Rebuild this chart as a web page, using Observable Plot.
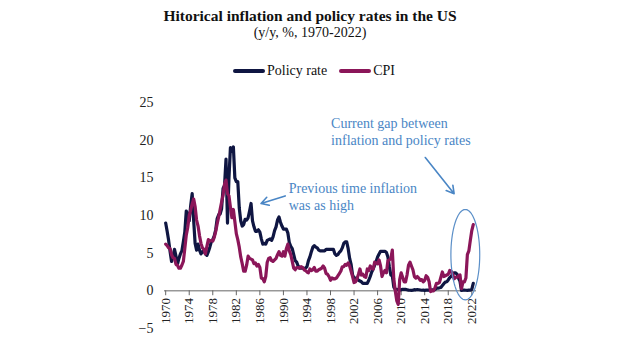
<!DOCTYPE html>
<html>
<head>
<meta charset="utf-8">
<script src="https://cdn.jsdelivr.net/npm/d3@7"></script>
<script src="https://cdn.jsdelivr.net/npm/@observablehq/plot@0.6"></script>
<style>
  html, body { margin: 0; padding: 0; background: #fff; }
  body { width: 620px; height: 355px; overflow: hidden; font-family: "Liberation Serif", serif; color: #111; }
  .title { text-align: center; font-weight: bold; font-size: 15.5px; line-height: 18px; padding-top: 7px; height: 18px; }
  .subtitle { text-align: center; font-size: 14px; line-height: 16px; height: 16px; }
  .legend { display: flex; justify-content: center; align-items: center; gap: 12px; font-size: 14px; height: 18px; margin-top: 21px; padding-left: 8px; }
  .legend .item { display: flex; align-items: center; gap: 2px; }
  .legend .sw { display: inline-block; width: 32px; height: 4px; border-radius: 2px; }
  #chart { height: 267px; margin-top: 8px; }
</style>
</head>
<body>
<div class="title">Hitorical inflation and policy rates in the US</div>
<div class="subtitle">(y/y, %, 1970-2022)</div>
<div class="legend" id="legend"></div>
<div id="chart"></div>
<script>
// Quarterly observations, 1970 Q1 .. 2022 Q2
const quarters = d3.range(1970, 2022.5, 0.25);

const policyRate = [
  9.0, 7.9, 6.7, 5.2,   3.9, 4.6, 5.5, 4.6,   3.5, 4.3, 4.9, 5.3,   6.5, 7.8, 10.6, 10.0,
  9.3, 11.3, 12.9, 9.4, 6.3, 5.4, 6.2, 5.4,   4.9, 5.2, 5.3, 4.9,   4.7, 5.2, 5.8, 6.5,
  6.8, 7.3, 8.1, 9.6,   10.1, 10.2, 10.9, 13.6, 14.0, 17.5, 9.0, 15.0, 19.0, 18.5, 19.1, 15.0,
  14.5, 14.5, 11.0, 9.3, 8.6, 8.8, 9.5, 9.4,  9.7, 10.6, 11.6, 9.3,  8.5, 7.9, 7.9, 8.1,
  7.8, 6.9, 6.2, 6.3,   6.2, 6.7, 6.8, 6.9,   6.7, 7.2, 8.0, 8.5,   9.4, 9.8, 9.1, 8.6,
  8.2, 8.2, 8.2, 7.7,   6.4, 5.9, 5.6, 4.8,   4.0, 3.8, 3.3, 3.0,   3.0, 3.0, 3.0, 3.0,
  3.2, 4.0, 4.5, 5.2,   5.8, 6.0, 5.8, 5.7,   5.4, 5.3, 5.3, 5.3,   5.3, 5.5, 5.5, 5.5,
  5.5, 5.5, 5.5, 4.9,   4.7, 4.8, 5.1, 5.3,   5.7, 6.3, 6.5, 6.5,   5.6, 4.3, 3.5, 2.1,
  1.7, 1.7, 1.7, 1.4,   1.3, 1.2, 1.0, 1.0,   1.0, 1.0, 1.4, 1.9,   2.5, 2.9, 3.4, 3.9,
  4.5, 4.9, 5.25, 5.25, 5.25, 5.25, 5.1, 4.5, 3.2, 2.1, 2.0, 0.5,   0.2, 0.2, 0.15, 0.12,
  0.13, 0.2, 0.19, 0.19, 0.15, 0.1, 0.08, 0.07, 0.1, 0.15, 0.14, 0.16, 0.14, 0.11, 0.08, 0.09,
  0.07, 0.09, 0.09, 0.1, 0.11, 0.13, 0.14, 0.16, 0.36, 0.37, 0.4, 0.45, 0.7, 0.95, 1.15, 1.2,
  1.45, 1.75, 1.92, 2.22, 2.4, 2.4, 2.19, 1.65, 1.25, 0.06, 0.09, 0.09, 0.08, 0.07, 0.09, 0.08,
  0.2, 1.0
];

const cpi = [
  6.2, 6.0, 5.7, 5.6,   4.8, 4.4, 4.3, 3.5,   3.4, 3.0, 3.0, 3.4,   3.9, 5.6, 7.4, 8.4,
  10.0, 10.7, 11.5, 12.2, 11.2, 9.4, 8.6, 7.3, 6.3, 5.7, 5.5, 4.9,  5.9, 6.8, 6.6, 6.7,
  6.6, 7.1, 7.9, 8.9,   9.8, 10.8, 11.8, 12.7, 14.2, 14.7, 12.9, 12.6, 11.1, 9.7, 10.8, 9.2,
  7.6, 6.8, 5.8, 4.5,   3.6, 2.6, 2.6, 3.4,   4.6, 4.3, 4.2, 4.1,   3.6, 3.7, 3.3, 3.5,
  3.1, 1.7, 1.6, 1.2,   1.9, 3.8, 4.3, 4.4,   4.0, 3.9, 4.1, 4.3,   4.8, 5.2, 4.7, 4.6,
  5.2, 4.6, 5.6, 6.2,   5.3, 4.8, 3.9, 3.0,   2.8, 3.1, 3.1, 3.0,   3.2, 3.1, 2.8, 2.7,
  2.5, 2.4, 2.9, 2.7,   2.8, 3.1, 2.6, 2.6,   2.8, 2.9, 3.0, 3.3,   3.0, 2.3, 2.2, 1.9,
  1.4, 1.7, 1.6, 1.6,   1.7, 2.0, 2.3, 2.6,   3.2, 3.2, 3.5, 3.4,   3.7, 3.3, 2.6, 1.9,
  1.1, 1.2, 1.6, 2.2,   2.9, 2.1, 2.2, 1.9,   1.8, 2.9, 2.7, 3.3,   3.0, 2.9, 3.8, 3.7,
  3.6, 4.1, 3.3, 1.9,   2.4, 2.7, 2.4, 4.0,   4.1, 4.3, 5.4, 1.6,   0.0, -1.3, -1.8, 1.5,
  2.4, 1.8, 1.2, 1.2,   2.1, 3.4, 3.8, 3.3,   2.8, 1.9, 1.7, 1.9,   1.7, 1.4, 1.5, 1.2,
  1.4, 2.0, 1.8, 1.2,   -0.1, 0.0, 0.0, 0.4,  1.0, 1.0, 1.1, 1.8,   2.5, 1.9, 2.0, 2.1,
  2.2, 2.7, 2.6, 2.2,   1.6, 1.8, 1.8, 2.0,   2.1, 0.3, 1.2, 1.2,   1.7, 4.8, 5.3, 6.7,
  8.0, 8.8
];

const seriesNames = ["Policy rate", "CPI"];
const seriesColors = ["#0f1642", "#8b1659"];
const xTicks = [1970, 1974, 1978, 1982, 1986, 1990, 1994, 1998, 2002, 2006, 2010, 2014, 2018, 2022];
const yTicks = [-5, 0, 5, 10, 15, 20, 25];

// Annotations (data coordinates)
const noteTexts = ["Previous time inflation\nwas as high", "Current gap between\ninflation and policy rates"];
const noteX = [1990.9, 1998.1];
const noteY = [12.6, 21.2];
const arrowX1 = [1990.3, 2014.1];
const arrowY1 = [12.6, 17.7];
const arrowX2 = [1986.2, 2019.0];
const arrowY2 = [11.6, 12.9];
const ellipseCenter = [2020.9, 4.8];
const ellipseRadii = [2.45, 6.0];
const noteColor = "#4a86c5";

const policyData = quarters.map((q, i) => ({x: q, y: policyRate[i]}));
const cpiData = quarters.map((q, i) => ({x: q, y: cpi[i]}));
const arrows = arrowX1.map((d, i) => ({x1: d, y1: arrowY1[i], x2: arrowX2[i], y2: arrowY2[i]}));
const notes = noteTexts.map((t, i) => ({text: t, x: noteX[i], y: noteY[i]}));
const ellipse = d3.range(0, 361, 5).map(a => ({
  x: ellipseCenter[0] + ellipseRadii[0] * Math.cos(a * Math.PI / 180),
  y: ellipseCenter[1] + ellipseRadii[1] * Math.sin(a * Math.PI / 180)
}));

// Legend
const legend = document.getElementById("legend");
seriesNames.forEach((n, i) => {
  const item = document.createElement("span");
  item.className = "item";
  item.innerHTML = `<span class="sw" style="background:${seriesColors[i]}"></span><span>${n}</span>`;
  legend.append(item);
});

const chart = Plot.plot({
  width: 620,
  height: 267,
  marginLeft: 164,
  marginRight: 144,
  marginTop: 14,
  marginBottom: 27,
  style: {fontFamily: "Liberation Serif, serif", fontSize: "13px", color: "#222", background: "transparent"},
  x: {domain: [1969.8, 2022.8], axis: null},
  y: {domain: [-5, 25], axis: null},
  marks: [
    Plot.axisY({ticks: yTicks, tickSize: 0, tickPadding: 11, fontSize: 14, fill: "#222"}),
    Plot.ruleY([0], {stroke: "#666", strokeWidth: 1}),
    Plot.ruleX(xTicks, {x: d => d, y1: 0, y2: -0.65, stroke: "#666", strokeWidth: 1}),
    Plot.text(xTicks, {x: d => d, y: -0.95, text: d => String(d), rotate: -90, textAnchor: "end", fontSize: 13, fill: "#222"}),
    Plot.line(policyData, {x: "x", y: "y", stroke: seriesColors[0], strokeWidth: 3.2, strokeLinejoin: "round"}),
    Plot.line(cpiData, {x: "x", y: "y", stroke: seriesColors[1], strokeWidth: 3.2, strokeLinejoin: "round"}),
    Plot.line(ellipse, {x: "x", y: "y", stroke: "#5b8fc8", strokeWidth: 1.2, curve: "linear"}),
    Plot.arrow(arrows, {x1: "x1", y1: "y1", x2: "x2", y2: "y2", stroke: noteColor, strokeWidth: 1.6, headLength: 8}),
    Plot.text(notes, {x: "x", y: "y", text: "text", textAnchor: "start", lineAnchor: "middle", lineHeight: 1.2, fontSize: 14, fill: noteColor})
  ]
});
document.getElementById("chart").append(chart);
</script>
</body>
</html>
